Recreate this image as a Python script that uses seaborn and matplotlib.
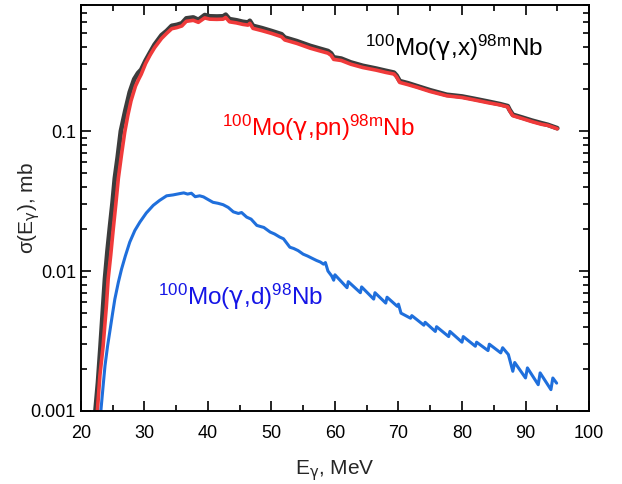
import numpy as np
import pandas as pd
import matplotlib
matplotlib.use("Agg")
import matplotlib.pyplot as plt
import matplotlib.ticker as mticker
import seaborn as sns

# 100Mo(g,x)98mNb  - total
e_x = [22.3, 22.7, 23.1, 23.5, 23.8, 24.2, 24.6, 25.0, 25.35, 25.8, 26.3, 27.0, 27.7, 28.4, 29.0, 29.5,
       30.2, 30.9, 31.6, 32.7, 33.5, 34.3, 35.1, 35.9, 36.6, 37.7, 38.5, 39.5, 40.3, 41.4,
       42.4, 42.8, 43.4, 44.5, 45.5, 46.3, 46.6, 47.1, 48.5, 50.0, 51.6, 52.1, 54.0, 56.1,
       57.5, 58.9, 59.4, 59.8, 61.0, 62.5, 64.4, 66.5, 68.0, 69.3, 69.7, 70.2, 71.5, 72.9,
       75.0, 77.6, 80.0, 82.0, 84.0, 86.0, 87.2, 87.5, 88.0, 89.5, 91.0, 92.5, 93.5, 95.0]
sig_x = [0.001, 0.0016, 0.0029, 0.0055, 0.0088, 0.014, 0.021, 0.031, 0.046, 0.065, 0.1, 0.14, 0.19, 0.235, 0.26, 0.275,
         0.32, 0.365, 0.415, 0.485, 0.52, 0.566, 0.575, 0.59, 0.64, 0.65, 0.625, 0.676, 0.662, 0.66,
         0.662, 0.68, 0.632, 0.62, 0.605, 0.598, 0.615, 0.566, 0.545, 0.52, 0.493, 0.467, 0.44, 0.407,
         0.39, 0.374, 0.36, 0.337, 0.33, 0.31, 0.293, 0.28, 0.27, 0.262, 0.25, 0.228, 0.22, 0.21,
         0.196, 0.182, 0.177, 0.17, 0.163, 0.156, 0.151, 0.142, 0.131, 0.125, 0.119, 0.114, 0.111, 0.105]

# 100Mo(g,pn)98mNb
e_pn = [22.6, 23.0, 23.5, 24.0, 24.3, 24.7, 25.1, 25.5, 25.9, 26.4, 26.9, 27.4, 27.9, 28.6, 29.1, 29.5,
        30.2, 30.9, 31.6, 32.7, 33.5, 34.3, 35.1, 35.9, 36.6, 37.7, 38.5, 39.5, 40.3, 41.4,
        42.4, 42.8, 43.4, 44.5, 45.5, 46.3, 46.6, 47.1, 48.5, 50.0, 51.6, 52.1, 54.0, 56.1,
        57.5, 58.9, 59.4, 59.8, 61.0, 62.5, 64.4, 66.5, 68.0, 69.3, 69.7, 70.2, 71.5, 72.9,
        75.0, 77.6, 80.0, 82.0, 84.0, 86.0, 87.2, 87.5, 88.0, 89.5, 91.0, 92.5, 93.5, 95.0]
sig_pn = [0.001, 0.0018, 0.0029, 0.0055, 0.0088, 0.013, 0.02, 0.03, 0.046, 0.068, 0.098, 0.13, 0.165, 0.21, 0.235, 0.255,
          0.305, 0.35, 0.395, 0.46, 0.5, 0.54, 0.55, 0.565, 0.61, 0.62, 0.6, 0.645, 0.632, 0.63,
          0.632, 0.65, 0.605, 0.594, 0.58, 0.573, 0.59, 0.543, 0.523, 0.5, 0.473, 0.449, 0.424, 0.392,
          0.376, 0.361, 0.348, 0.326, 0.32, 0.301, 0.285, 0.273, 0.263, 0.256, 0.244, 0.223, 0.215, 0.206,
          0.192, 0.179, 0.174, 0.167, 0.16, 0.154, 0.149, 0.14, 0.129, 0.123, 0.117, 0.112, 0.11, 0.104]

# 100Mo(g,d)98Nb
e_d = [23.15, 23.5, 23.8, 24.2, 24.6, 25.0, 25.35, 25.9, 26.4, 27.0, 27.7, 28.5, 29.3, 30.3,
       31.4, 32.4, 33.5, 34.5, 35.6, 36.2, 36.8, 37.4, 38.0, 38.7, 39.3, 40.0, 40.8, 41.6, 42.4,
       43.2, 44.0, 44.8, 45.3, 46.1, 46.8, 47.7, 48.3, 48.8, 49.8, 50.5, 51.3, 51.9, 52.9,
       53.5, 54.2, 55.0, 55.7, 56.3, 57.1, 57.7, 58.2, 58.5, 58.9, 59.5, 59.8, 60.0, 61.9,
       62.1, 64.0, 64.2, 66.1, 66.3, 68.0, 68.2, 69.8, 70.0, 70.4, 71.9, 72.1, 74.0, 74.2,
       75.8, 76.0, 77.9, 78.1, 80.0, 80.2, 82.1, 82.3, 84.1, 84.3, 86.1, 86.4, 87.3, 88.0,
       88.3, 90.0, 90.3, 92.0, 92.3, 94.0, 94.3, 94.9]
sig_d = [0.001, 0.0015, 0.0021, 0.0029, 0.0038, 0.005, 0.0063, 0.0083, 0.0103, 0.0128, 0.0161, 0.0195, 0.0224, 0.026,
         0.0295, 0.032, 0.0345, 0.035, 0.0358, 0.0362, 0.0355, 0.036, 0.034, 0.0345, 0.0339, 0.0325, 0.031, 0.0305, 0.0298,
         0.0285, 0.0265, 0.0258, 0.0262, 0.0243, 0.0235, 0.0212, 0.0208, 0.0205, 0.019, 0.0184, 0.0175, 0.017, 0.0148,
         0.0145, 0.014, 0.0132, 0.0128, 0.0124, 0.0119, 0.0116, 0.0112, 0.0115, 0.01, 0.0092, 0.0086, 0.0094, 0.0076,
         0.0084, 0.007, 0.0077, 0.0063, 0.007, 0.0059, 0.0065, 0.0056, 0.0058, 0.005, 0.0046, 0.0048, 0.0041, 0.0043,
         0.0037, 0.004, 0.0034, 0.0037, 0.0031, 0.0034, 0.0029, 0.0031, 0.0027, 0.003, 0.0026, 0.00283, 0.00253, 0.00192,
         0.00222, 0.00172, 0.00203, 0.00154, 0.00187, 0.00142, 0.00172, 0.00158]

x_ticks = [20, 30, 40, 50, 60, 70, 80, 90, 100]
y_ticks = [0.001, 0.01, 0.1]
y_tick_labels = ["0.001", "0.01", "0.1"]

sns.set_theme(style="ticks")
plt.rcParams["font.family"] = ["Liberation Sans", "DejaVu Sans"]
plt.rcParams["mathtext.fontset"] = "custom"
plt.rcParams["mathtext.rm"] = "Liberation Sans"
plt.rcParams["mathtext.it"] = "Liberation Sans:italic"
plt.rcParams["mathtext.sf"] = "DejaVu Sans"
plt.rcParams["mathtext.default"] = "regular"

fig = plt.figure(figsize=(6.22, 4.84), dpi=100)
ax = fig.add_axes([0.130, 0.151, 0.817, 0.839])

df_x = pd.DataFrame({"E": e_x, "sigma": sig_x})
df_pn = pd.DataFrame({"E": e_pn, "sigma": sig_pn})
df_d = pd.DataFrame({"E": e_d, "sigma": sig_d})

sns.lineplot(data=df_x, x="E", y="sigma", ax=ax, color="#3c3c3c", linewidth=3.4,
             estimator=None, sort=False, solid_joinstyle="round")
sns.lineplot(data=df_pn, x="E", y="sigma", ax=ax, color="#f03a3a", linewidth=2.6,
             estimator=None, sort=False, solid_joinstyle="round")
sns.lineplot(data=df_d, x="E", y="sigma", ax=ax, color="#1f6fdc", linewidth=2.2,
             estimator=None, sort=False, solid_joinstyle="round")

ax.set_yscale("log")
ax.set_xlim(20, 100)
ax.set_ylim(0.001, 0.8)
ax.set_xticks(x_ticks)
ax.xaxis.set_minor_locator(mticker.MultipleLocator(5))
ax.yaxis.set_major_locator(mticker.FixedLocator(y_ticks))
ax.yaxis.set_major_formatter(mticker.FixedFormatter(y_tick_labels))
ax.yaxis.set_minor_locator(mticker.LogLocator(base=10, subs=np.arange(2, 10)))
ax.yaxis.set_minor_formatter(mticker.NullFormatter())

ax.tick_params(which="both", direction="in", top=True, right=True, width=1.2, colors="black")
ax.tick_params(which="major", length=7, labelsize=13)
ax.tick_params(which="minor", length=4)
ax.tick_params(axis="x", which="major", pad=10)
for sp in ax.spines.values():
    sp.set_linewidth(1.4)
    sp.set_color("black")

g = r"$\mathsf{\gamma}$"
ax.set_xlabel("E$_{\\mathsf{\\gamma}}$, MeV", fontsize=15, labelpad=12)
ax.set_ylabel("σ(E$_{\\mathsf{\\gamma}}$), mb", fontsize=15)
ax.yaxis.set_label_coords(-0.077, 0.5)

ax.text(0.559, 0.894, "$^{100}$Mo(" + g + ",x)$^{98m}$Nb", transform=ax.transAxes,
        fontsize=17.5, color="black", va="center", ha="left")
ax.text(0.278, 0.697, "$^{100}$Mo(" + g + ",pn)$^{98m}$Nb", transform=ax.transAxes,
        fontsize=17.5, color="#ff0000", va="center", ha="left")
ax.text(0.152, 0.281, "$^{100}$Mo(" + g + ",d)$^{98}$Nb", transform=ax.transAxes,
        fontsize=17.5, color="#1515e6", va="center", ha="left")

fig.savefig("out.png", dpi=100)
